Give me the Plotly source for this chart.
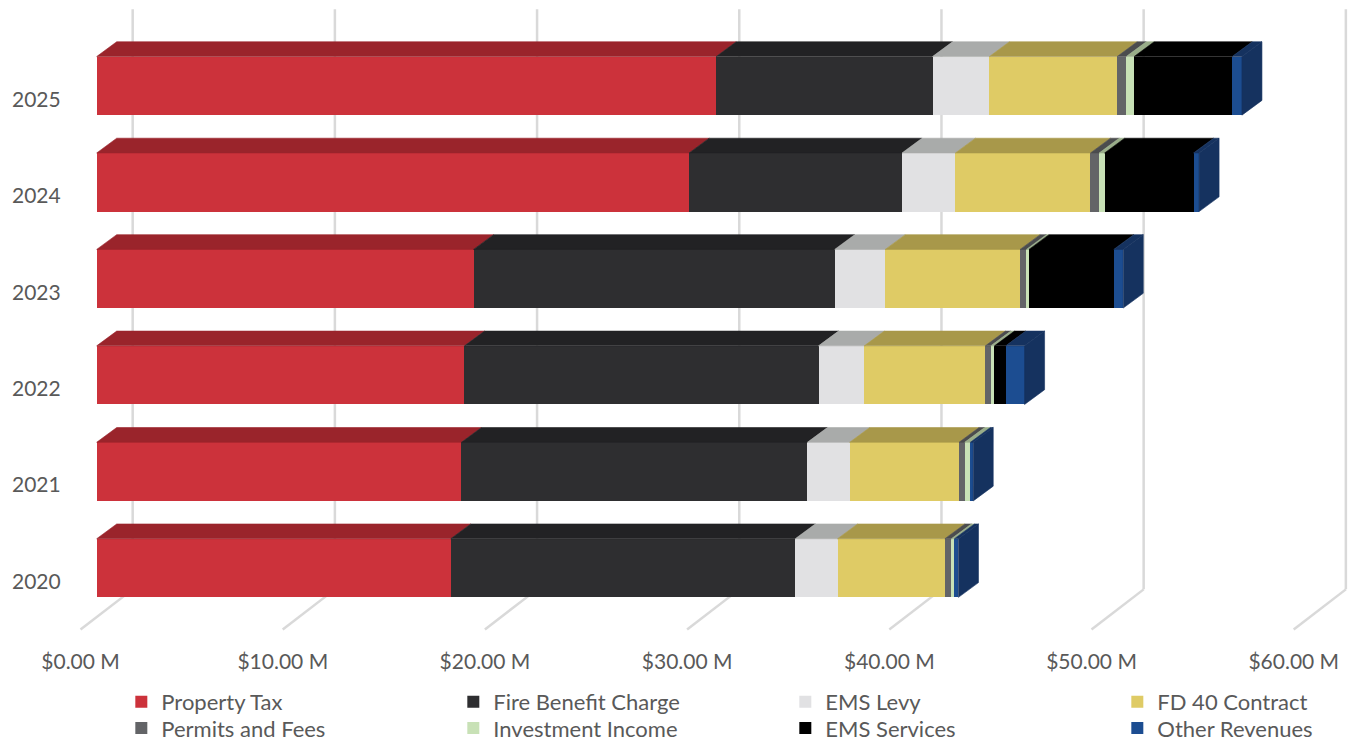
import plotly.graph_objects as go

# Revenue by source, $ millions
years = ["2020", "2021", "2022", "2023", "2024", "2025"]
series_names = ["Property Tax", "Fire Benefit Charge", "EMS Levy", "FD 40 Contract",
                "Permits and Fees", "Investment Income", "EMS Services", "Other Revenues"]
property_tax = [17.51, 18.04, 18.19, 18.64, 29.30, 30.64]
fire_benefit_charge = [17.04, 17.11, 17.51, 17.86, 10.53, 10.70]
ems_levy = [2.09, 2.09, 2.26, 2.50, 2.64, 2.81]
fd40_contract = [5.31, 5.41, 5.99, 6.67, 6.68, 6.32]
permits_and_fees = [0.32, 0.28, 0.27, 0.31, 0.43, 0.45]
investment_income = [0.15, 0.28, 0.18, 0.13, 0.27, 0.39]
ems_services = [0.0, 0.0, 0.56, 4.19, 4.40, 4.85]
other_revenues = [0.20, 0.14, 0.93, 0.47, 0.27, 0.48]
x_ticks = [0, 10, 20, 30, 40, 50, 60]
x_tick_labels = [f"${v:.2f} M" for v in x_ticks]

series_values = [property_tax, fire_benefit_charge, ems_levy, fd40_contract,
                 permits_and_fees, investment_income, ems_services, other_revenues]

front_colors = ["#cc323b", "#2e2e30", "#e1e1e3", "#dfcb65",
                "#636467", "#c8e1b6", "#000000", "#1c4d91"]
top_colors = ["#9a242b", "#222224", "#a9abaa", "#a8984a",
              "#4b4c4e", "#99ad89", "#000000", "#15325f"]
side_colors = ["#7a1c22", "#1a1a1b", "#8f9190", "#8f803c",
               "#3c3d3f", "#83957a", "#000000", "#15325f"]

FONT = "Lato, 'Open Sans', sans-serif"
TEXT = "#595959"
GRID = "#d9d9d9"

# oblique-projection geometry (axis units)
HALF = 0.304          # half height of a bar's front face
DX, DY = 0.99, 0.153  # bar depth offset
BACK_DX = 1.78        # back wall offset from front face plane
FLOOR_DX = -0.80      # floor front edge offset
WALL_TOP, WALL_BOTTOM, FLOOR_FRONT = 5.793, -0.221, -0.636

ypos = list(range(len(years)))

fig = go.Figure()

# wall and floor gridlines
shapes = []
for v in x_ticks:
    shapes.append(dict(type="line", xref="x", yref="y", layer="below",
                       x0=v + BACK_DX, x1=v + BACK_DX, y0=WALL_TOP, y1=WALL_BOTTOM,
                       line=dict(color=GRID, width=2.5)))
    shapes.append(dict(type="line", xref="x", yref="y", layer="below",
                       x0=v + BACK_DX, x1=v + FLOOR_DX, y0=WALL_BOTTOM, y1=FLOOR_FRONT,
                       line=dict(color=GRID, width=2.5)))

# front faces (first four series in the upper legend row, rest in the lower)
for i, (name, vals, col) in enumerate(zip(series_names, series_values, front_colors)):
    fig.add_trace(go.Bar(
        y=ypos, x=vals, name=name, orientation="h", width=2 * HALF,
        marker=dict(color=col, line=dict(width=0)),
        xaxis="x", yaxis="y", hoverinfo="x+name",
        legend="legend" if i < 4 else "legend2",
    ))

# top faces
cum = [0.0] * len(years)
ends = [[0.0] * len(years) for _ in series_names]
for si, vals in enumerate(series_values):
    xs, ys = [], []
    for k, v in enumerate(vals):
        s, e = cum[k], cum[k] + v
        if v > 0:
            yt = k + HALF
            xs += [s, s + DX, e + DX, e, s, None]
            ys += [yt, yt + DY, yt + DY, yt, yt, None]
        cum[k] = e
        ends[si][k] = e
    fig.add_trace(go.Scatter(
        x=xs, y=ys, mode="lines", fill="toself", fillcolor=top_colors[si],
        line=dict(color=top_colors[si], width=0.6), hoverinfo="skip",
        showlegend=False, xaxis="x", yaxis="y",
    ))

# right-hand end faces
for k in range(len(years)):
    last = max(i for i, vals in enumerate(series_values) if vals[k] > 0)
    e = ends[last][k]
    fig.add_trace(go.Scatter(
        x=[e, e + DX, e + DX, e, e],
        y=[k + HALF, k + HALF + DY, k - HALF + DY, k - HALF, k + HALF],
        mode="lines", fill="toself", fillcolor=side_colors[last],
        line=dict(color=side_colors[last], width=0.6), hoverinfo="skip",
        showlegend=False, xaxis="x", yaxis="y",
    ))

# carrier trace for the value axis labels
fig.add_trace(go.Scatter(x=[None], y=[None], xaxis="x2", yaxis="y",
                         showlegend=False, hoverinfo="skip"))

legend_common = dict(orientation="h", x=0.09, xanchor="left", yanchor="top",
                     entrywidth=287, entrywidthmode="pixels", traceorder="normal",
                     bgcolor="rgba(0,0,0,0)", tracegroupgap=0,
                     font=dict(family=FONT, size=22, color=TEXT))

fig.update_layout(
    width=1348, height=742,
    margin=dict(l=0, r=0, t=0, b=102, autoexpand=False),
    paper_bgcolor="white", plot_bgcolor="white",
    barmode="stack",
    shapes=shapes,
    font=dict(family=FONT, size=21, color=TEXT),
    xaxis=dict(range=[-4.782, 61.886], showgrid=False, zeroline=False,
               showline=False, showticklabels=False, ticks=""),
    xaxis2=dict(range=[-3.985, 62.683], overlaying="x", anchor="y", side="bottom",
                tickvals=x_ticks, ticktext=x_tick_labels,
                showgrid=False, zeroline=False, showline=False, ticks="",
                ticklabelstandoff=7,
                tickfont=dict(family=FONT, size=21, color=TEXT)),
    yaxis=dict(range=[-0.746, 5.890], tickvals=[p - 0.14 for p in ypos], ticktext=years,
               ticklabelposition="inside", ticklabelstandoff=9,
               showgrid=False, zeroline=False, showline=False, ticks="",
               tickfont=dict(family=FONT, size=21, color=TEXT)),
    legend=dict(y=-0.064, **legend_common),
    legend2=dict(y=-0.105, **legend_common),
    showlegend=True,
)

fig.write_html("out.html")
